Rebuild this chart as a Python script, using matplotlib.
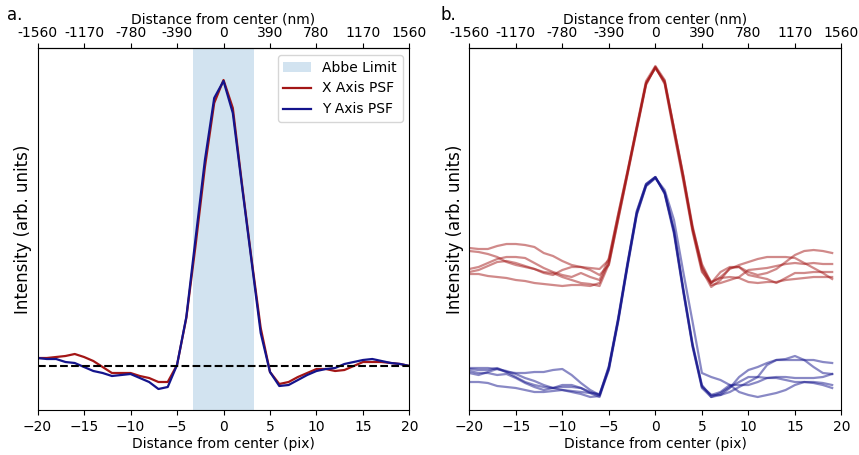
import numpy as np
import matplotlib.pyplot as plt

# pixel offsets from PSF centre
pix_a = np.arange(-20, 21)
pix_b = np.arange(-20, 20)
nm_per_pix = 78

# panel a: averaged PSF profiles (arb. units)
x_psf = [52, 52, 53, 54, 56, 53, 49, 43, 37, 37, 37, 34, 32, 28, 28, 45, 92, 165, 243, 307, 330,
         302, 225, 152, 82, 38, 26, 28, 33, 37, 41, 41, 39, 40, 44, 48, 48, 48, 47, 46, 44]
y_psf = [52, 51, 51, 48, 47, 43, 39, 37, 34, 35, 36, 32, 28, 21, 23, 45, 93, 172, 250, 312, 329,
         297, 223, 150, 77, 38, 24, 25, 30, 35, 39, 41, 42, 46, 48, 50, 51, 49, 47, 46, 44]
threshold = 44
abbe = 3.25  # half width in pix

# panel b: individual profiles, x = -20..19
x_single = [
    [162, 161, 161, 164, 166, 166, 165, 163, 157, 154, 149, 145, 143, 142, 141, 150, 195, 238, 284, 329,
     344, 330, 282, 234, 182, 146, 127, 133, 141, 145, 148, 151, 153, 153, 153, 152, 147, 142, 137, 131],
    [159, 158, 156, 153, 148, 145, 143, 141, 138, 137, 133, 130, 127, 126, 124, 146, 191, 236, 281, 326,
     343, 327, 279, 231, 180, 140, 123, 130, 142, 143, 138, 135, 137, 141, 148, 155, 159, 160, 159, 157],
    [141, 143, 147, 151, 153, 153, 152, 147, 142, 138, 135, 133, 137, 133, 130, 152, 196, 239, 283, 327,
     342, 329, 282, 235, 184, 144, 125, 127, 130, 133, 140, 141, 142, 144, 146, 147, 146, 147, 146, 146],
    [138, 140, 144, 148, 149, 147, 144, 141, 137, 135, 140, 143, 143, 140, 135, 145, 190, 235, 280, 325,
     343, 326, 277, 229, 178, 138, 127, 138, 143, 143, 135, 133, 131, 127, 132, 137, 137, 138, 138, 138],
    [136, 136, 134, 133, 132, 130, 129, 127, 126, 125, 124, 125, 125, 124, 127, 148, 193, 237, 282, 327,
     342, 328, 281, 233, 181, 142, 128, 132, 133, 132, 128, 127, 128, 128, 130, 131, 132, 133, 133, 133],
]
y_single = [
    [42, 42, 42, 41, 39, 36, 32, 29, 25, 22, 20, 19, 18, 17, 16, 42, 90, 145, 197, 225,
     233, 217, 178, 120, 65, 24, 15, 15, 22, 33, 40, 43, 47, 50, 51, 54, 50, 43, 37, 36],
    [41, 40, 40, 42, 38, 37, 37, 38, 38, 40, 41, 35, 27, 20, 15, 44, 92, 147, 198, 226,
     233, 216, 176, 118, 63, 22, 13, 15, 18, 23, 28, 33, 45, 50, 50, 50, 50, 50, 48, 47],
    [39, 37, 37, 35, 36, 32, 27, 23, 20, 22, 23, 23, 22, 18, 15, 40, 88, 143, 195, 224,
     232, 218, 180, 122, 66, 25, 13, 17, 23, 28, 33, 33, 32, 33, 33, 32, 32, 32, 33, 36],
    [37, 35, 38, 41, 38, 33, 28, 25, 23, 22, 25, 25, 22, 17, 13, 41, 91, 146, 199, 226,
     233, 217, 179, 119, 64, 23, 15, 18, 25, 25, 25, 28, 32, 32, 30, 28, 28, 27, 25, 22],
    [28, 28, 27, 24, 23, 22, 20, 18, 18, 19, 20, 18, 16, 13, 14, 43, 89, 144, 196, 224,
     232, 220, 190, 138, 88, 37, 33, 30, 25, 18, 15, 13, 15, 17, 20, 25, 28, 28, 27, 25],
]

red = '#a31616'
blue = '#14148c'

fig = plt.figure(figsize=(8.59, 4.55), dpi=100)
ax1 = fig.add_axes([0.0437, 0.0989, 0.433, 0.7956])
ax2 = fig.add_axes([0.5463, 0.0989, 0.4333, 0.7956])

ax1.axvspan(-abbe, abbe, color='tab:blue', alpha=0.2, lw=0, label='Abbe Limit')
ax1.plot(pix_a, x_psf, color=red, lw=1.6, label='X Axis PSF')
ax1.plot(pix_a, y_psf, color=blue, lw=1.6, label='Y Axis PSF')
ax1.axhline(threshold, color='k', ls='--', lw=1.5)
ax1.legend(loc='upper right', fontsize=10)

for row in x_single:
    ax2.plot(pix_b, row, color=red, lw=1.6, alpha=0.5)
for row in y_single:
    ax2.plot(pix_b, row, color=blue, lw=1.6, alpha=0.5)

ticks = np.arange(-20, 21, 5)
for ax, tag in [(ax1, 'a.'), (ax2, 'b.')]:
    ax.set_xlim(-20, 20)
    ax.set_ylim(0, 362)
    ax.set_yticks([])
    ax.set_xticks(ticks)
    ax.tick_params(labelsize=10)
    ax.set_xlabel('Distance from center (pix)', fontsize=10, labelpad=2)
    ax.set_ylabel('Intensity (arb. units)', fontsize=12, labelpad=4)
    top = ax.secondary_xaxis('top')
    top.set_xticks(ticks)
    top.set_xticklabels([str(t * nm_per_pix) for t in ticks])
    top.tick_params(labelsize=10, pad=2)
    top.set_xlabel('Distance from center (nm)', fontsize=10, labelpad=2)

fig.text(0.008, 0.955, 'a.', fontsize=12)
fig.text(0.513, 0.955, 'b.', fontsize=12)

fig.savefig('out.png', dpi=100)
